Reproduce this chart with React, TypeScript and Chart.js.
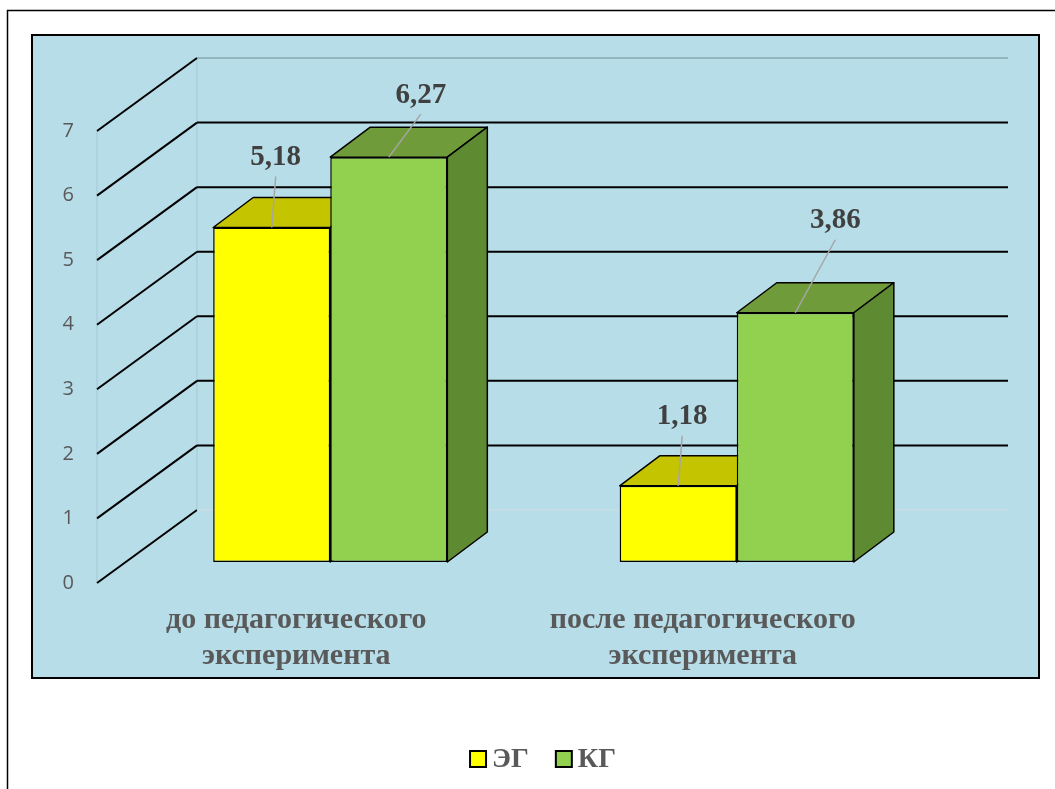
import React, { useEffect, useRef } from 'react';
import { Chart, registerables } from 'chart.js';

Chart.register(...registerables);

// ---- data ----
const categories: string[][] = [
  ['до педагогического', 'эксперимента'],
  ['после педагогического', 'эксперимента'],
];
const seriesNames = ['ЭГ', 'КГ'];
const egValues = [5.18, 1.18];
const kgValues = [6.27, 3.86];
const yMin = 0;
const yMax = 7;
const yStep = 1;

// ---- styles / layout ----
const FRONT = ['#FFFF00', '#92D050'];
const TOP = ['#C4C400', '#709B3A'];
const SIDE = ['#A8A800', '#5E8A31'];
const BG_BLUE = '#B7DDE8';
const SERIF = '"Liberation Serif", "Times New Roman", serif';
const SANS = '"Open Sans", "Liberation Sans", sans-serif';
const DEPTH_DX = 40;
const DEPTH_DY = -30;
const AXIS_DROP = 21; // axis plane below bar plane
const WALL_RISE = 52; // back wall above bar plane
const WALL_LEFT_DX = 30; // axis plane left of chart area
const WALL_DX = 100;
// label offsets relative to bar top centre [dataset][index]
const labelOffsets = [
  [[4, -70], [4, -69]],
  [[32, -62], [40, -92]],
];

const fmt = (v: number) => v.toFixed(2).replace('.', ',');

const bgPlugin = {
  id: 'bg',
  beforeDraw(chart: any) {
    const ctx = chart.ctx;
    ctx.save();
    ctx.fillStyle = '#ffffff';
    ctx.fillRect(0, 0, chart.width, chart.height);
    ctx.strokeStyle = '#000';
    ctx.lineWidth = 1.5;
    ctx.strokeRect(7.5, 10.5, chart.width + 20, chart.height + 20);
    ctx.fillStyle = BG_BLUE;
    ctx.fillRect(32, 35, 1007, 643);
    ctx.lineWidth = 2;
    ctx.strokeRect(32, 35, 1007, 643);
    ctx.restore();
  },
};

const threeDPlugin = {
  id: 'three',
  beforeDatasetsDraw(chart: any) {
    const ctx = chart.ctx;
    const ys = chart.scales.y;
    const area = chart.chartArea;
    const xFront = area.left - WALL_LEFT_DX;
    const xBack = xFront + WALL_DX;
    const xRight = area.right + 68;
    ctx.save();
    // faint wall edges
    ctx.strokeStyle = 'rgba(150,185,195,0.5)';
    ctx.lineWidth = 1;
    ctx.beginPath();
    ctx.moveTo(xFront, ys.getPixelForValue(yMax) + AXIS_DROP);
    ctx.lineTo(xFront, ys.getPixelForValue(yMin) + AXIS_DROP);
    ctx.moveTo(xBack, ys.getPixelForValue(yMax) - WALL_RISE);
    ctx.lineTo(xBack, ys.getPixelForValue(yMin) - WALL_RISE);
    ctx.stroke();
    for (let v = yMin; v <= yMax; v += yStep) {
      const p = ys.getPixelForValue(v);
      const yF = p + AXIS_DROP;
      const yB = p - WALL_RISE;
      ctx.strokeStyle = '#000';
      ctx.lineWidth = 2;
      ctx.beginPath();
      ctx.moveTo(xFront, yF);
      ctx.lineTo(xBack, yB);
      ctx.stroke();
      ctx.beginPath();
      if (v === yMin || v === yMax) {
        ctx.strokeStyle = v === yMax ? 'rgba(120,150,160,0.75)' : 'rgba(200,220,226,0.9)';
        ctx.lineWidth = 1.5;
      }
      ctx.moveTo(xBack, yB);
      ctx.lineTo(xRight, yB);
      ctx.stroke();
    }
    // 3D faces
    const n = chart.data.labels.length;
    for (let i = 0; i < n; i++) {
      chart.data.datasets.forEach((ds: any, di: number) => {
        const el = chart.getDatasetMeta(di).data[i];
        const { x, y, base, width } = el.getProps(['x', 'y', 'base', 'width'], true);
        const L = x - width / 2;
        const R = x + width / 2;
        ctx.lineWidth = 1.5;
        ctx.strokeStyle = '#000';
        ctx.lineJoin = 'round';
        ctx.fillStyle = TOP[di];
        ctx.beginPath();
        ctx.moveTo(L, y);
        ctx.lineTo(R, y);
        ctx.lineTo(R + DEPTH_DX, y + DEPTH_DY);
        ctx.lineTo(L + DEPTH_DX, y + DEPTH_DY);
        ctx.closePath();
        ctx.fill();
        ctx.stroke();
        ctx.fillStyle = SIDE[di];
        ctx.beginPath();
        ctx.moveTo(R, y);
        ctx.lineTo(R + DEPTH_DX, y + DEPTH_DY);
        ctx.lineTo(R + DEPTH_DX, base + DEPTH_DY);
        ctx.lineTo(R, base);
        ctx.closePath();
        ctx.fill();
        ctx.stroke();
      });
    }
    ctx.restore();
  },
  afterDatasetsDraw(chart: any) {
    const ctx = chart.ctx;
    ctx.save();
    chart.data.datasets.forEach((ds: any, di: number) => {
      chart.getDatasetMeta(di).data.forEach((el: any, i: number) => {
        const { x, y } = el.getProps(['x', 'y'], true);
        const [dx, dy] = labelOffsets[di][i];
        const lx = x + dx;
        const ly = y + dy;
        ctx.strokeStyle = '#A6A6A6';
        ctx.lineWidth = 1.5;
        ctx.beginPath();
        ctx.moveTo(lx, ly + 19);
        ctx.lineTo(x, y);
        ctx.stroke();
        ctx.fillStyle = '#404040';
        ctx.font = `bold 29px ${SERIF}`;
        ctx.textAlign = 'center';
        ctx.textBaseline = 'middle';
        ctx.fillText(fmt(ds.data[i]), lx, ly);
      });
    });
    ctx.restore();
  },
  afterDraw(chart: any) {
    // legend
    const ctx = chart.ctx;
    ctx.save();
    ctx.font = `bold 28px ${SERIF}`;
    const box = 16;
    const gapText = 6;
    const gapItem = 27;
    const items = chart.data.datasets.map((ds: any, di: number) => ({
      label: ds.label,
      color: FRONT[di],
      w: box + gapText + ctx.measureText(ds.label).width,
    }));
    const total = items.reduce((s: number, it: any) => s + it.w, 0) + gapItem * (items.length - 1);
    let x = 543 - total / 2;
    const cy = 759;
    items.forEach((it: any) => {
      ctx.fillStyle = it.color;
      ctx.fillRect(x, cy - box / 2, box, box);
      ctx.strokeStyle = '#000';
      ctx.lineWidth = 2;
      ctx.strokeRect(x, cy - box / 2, box, box);
      ctx.fillStyle = '#595959';
      ctx.textAlign = 'left';
      ctx.textBaseline = 'middle';
      ctx.fillText(it.label, x + box + gapText, cy + 1);
      x += it.w + gapItem;
    });
    ctx.restore();
  },
};

export default function App() {
  const ref = useRef<HTMLCanvasElement>(null);
  useEffect(() => {
    if (!ref.current) return;
    const chart = new Chart(ref.current, {
      type: 'bar',
      data: {
        labels: categories,
        datasets: [
          {
            label: seriesNames[0],
            data: egValues,
            backgroundColor: FRONT[0],
            borderColor: '#000',
            borderWidth: 1.5,
            borderSkipped: false,
          },
          {
            label: seriesNames[1],
            data: kgValues,
            backgroundColor: FRONT[1],
            borderColor: '#000',
            borderWidth: 1.5,
            borderSkipped: false,
          },
        ],
      },
      options: {
        responsive: false,
        animation: false,
        devicePixelRatio: 1,
        layout: { padding: { top: 110, left: 0, right: 115, bottom: 87 } },
        categoryPercentage: 0.576,
        barPercentage: 1,
        plugins: {
          legend: { display: false },
          tooltip: { enabled: false },
        },
        scales: {
          x: {
            grid: { display: false, drawTicks: false },
            border: { display: false },
            ticks: {
              color: '#595959',
              font: { family: SERIF, size: 30, weight: 'bold', lineHeight: '36px' },
              padding: 40,
              labelOffset: -34,
              maxRotation: 0,
              autoSkip: false,
            },
            afterFit: (s: any) => {
              s.height = 140;
            },
          },
          y: {
            min: yMin,
            max: yMax,
            grid: { display: false, drawTicks: false },
            border: { display: false },
            ticks: {
              stepSize: yStep,
              color: '#595959',
              font: { family: SANS, size: 20 },
              padding: 53,
              labelOffset: AXIS_DROP,
            },
            afterFit: (s: any) => {
              s.width = 127;
            },
          },
        },
      } as any,
      plugins: [bgPlugin, threeDPlugin],
    });
    return () => chart.destroy();
  }, []);
  return (
    <div style={{ position: 'fixed', left: 0, top: 0, width: 1055, height: 789 }}>
      <canvas ref={ref} width={1055} height={789} style={{ display: 'block' }} />
    </div>
  );
}
